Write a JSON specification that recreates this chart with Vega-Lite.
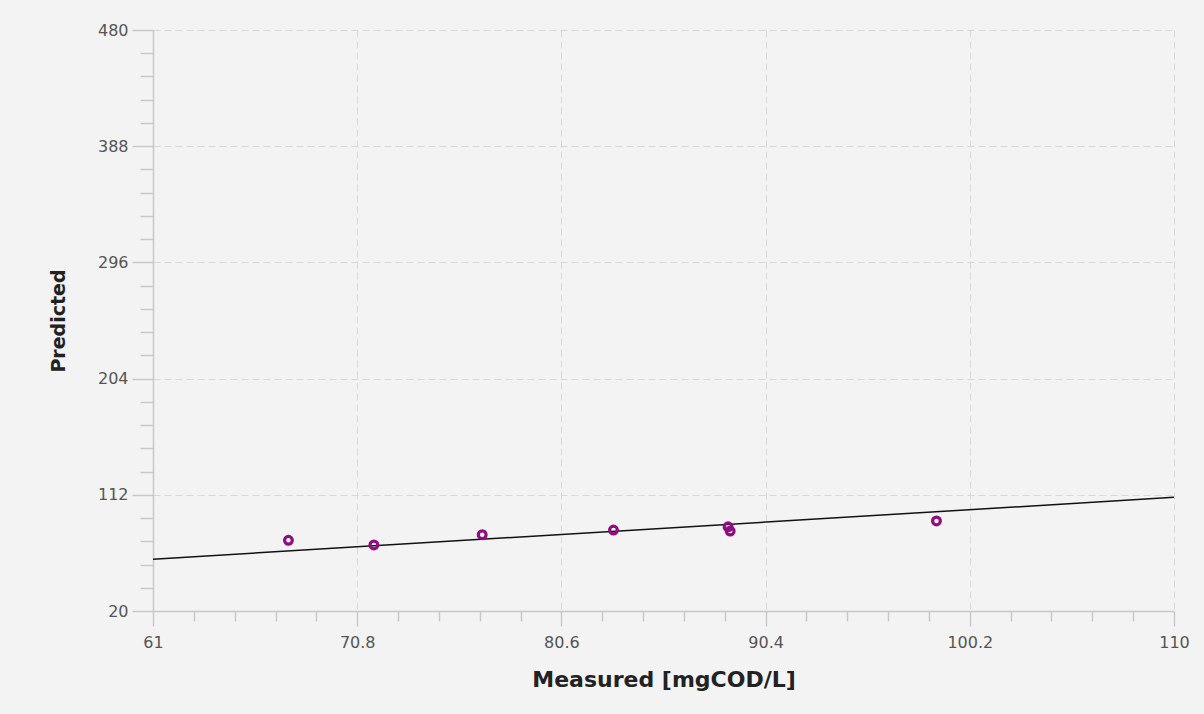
{
  "$schema": "https://vega.github.io/schema/vega-lite/v6.json",
  "width": 1021,
  "height": 581,
  "autosize": {"type": "none"},
  "padding": {"left": 153, "top": 30, "right": 30, "bottom": 103},
  "background": "#f3f3f3",
  "config": {
    "view": {"stroke": null},
    "axis": {
      "labelFont": "DejaVu Sans",
      "labelFontSize": 16,
      "labelColor": "#555555",
      "labelFlush": false,
      "titleFont": "DejaVu Sans",
      "titleFontWeight": "bold",
      "titleColor": "#222222",
      "domainColor": "#c8c8c8",
      "domainWidth": 1.5,
      "tickColor": "#c8c8c8",
      "tickWidth": 1.5,
      "gridColor": "#d8d8d8",
      "gridDash": [7, 4],
      "gridWidth": 1
    }
  },
  "datasets": {
    "points": [
      {"measured": 67.5, "predicted": 76.0},
      {"measured": 71.6, "predicted": 72.3},
      {"measured": 76.8, "predicted": 80.4},
      {"measured": 83.1, "predicted": 84.1},
      {"measured": 88.6, "predicted": 86.7},
      {"measured": 88.7, "predicted": 83.3},
      {"measured": 98.6, "predicted": 91.3}
    ],
    "identity": [
      {"measured": 61, "predicted": 61},
      {"measured": 110, "predicted": 110}
    ]
  },
  "layer": [
    {
      "data": {"name": "identity"},
      "mark": {"type": "line", "color": "#111111", "strokeWidth": 1.5, "clip": true},
      "encoding": {
        "x": {
          "field": "measured", "type": "quantitative",
          "scale": {"domain": [61, 110], "nice": false, "zero": false},
          "axis": {
            "orient": "bottom",
            "title": "Measured [mgCOD/L]",
            "titleFontSize": 22,
            "titlePadding": 19,
            "values": [61, 70.8, 80.6, 90.4, 100.2, 110],
            "format": ".1~f",
            "tickSize": 15,
            "labelPadding": 8,
            "grid": true
          }
        },
        "y": {
          "field": "predicted", "type": "quantitative",
          "scale": {"domain": [20, 480], "nice": false, "zero": false},
          "axis": {
            "orient": "left",
            "title": "Predicted",
            "titleFontSize": 19,
            "titlePadding": 29,
            "values": [20, 112, 204, 296, 388, 480],
            "format": "d",
            "tickSize": 21,
            "labelPadding": 4,
            "grid": true
          }
        }
      }
    },
    {
      "data": {"name": "points"},
      "mark": {"type": "point", "shape": "circle", "filled": false, "color": "#8e0e80", "strokeWidth": 3.2, "size": 60, "opacity": 1},
      "encoding": {
        "x": {
          "field": "measured", "type": "quantitative",
          "axis": {
            "orient": "bottom",
            "title": null,
            "values": [62.96, 64.92, 66.88, 68.84, 72.76, 74.72, 76.68, 78.64, 82.56, 84.52, 86.48, 88.44, 92.36, 94.32, 96.28, 98.24, 102.16, 104.12, 106.08, 108.04],
            "labels": false,
            "domain": false,
            "grid": false,
            "tickSize": 10
          }
        },
        "y": {
          "field": "predicted", "type": "quantitative",
          "axis": {
            "orient": "left",
            "title": null,
            "values": [38.4, 56.8, 75.2, 93.6, 130.4, 148.8, 167.2, 185.6, 222.4, 240.8, 259.2, 277.6, 314.4, 332.8, 351.2, 369.6, 406.4, 424.8, 443.2, 461.6],
            "labels": false,
            "domain": false,
            "grid": false,
            "tickSize": 13
          }
        }
      }
    }
  ],
  "resolve": {"axis": {"x": "independent", "y": "independent"}}
}
